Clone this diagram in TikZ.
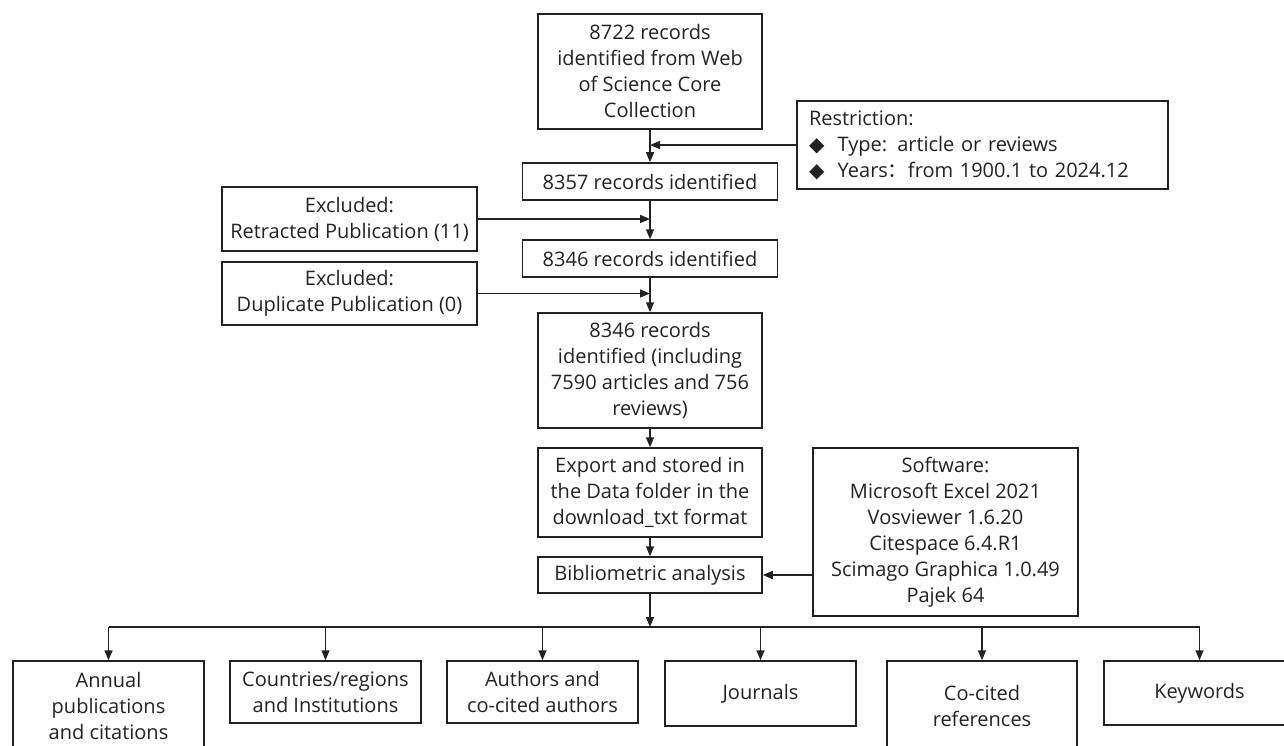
\documentclass[tikz,border=0pt]{standalone}
\usepackage{fontspec}
\setmainfont{Open Sans}
\newfontfamily\symfont{DejaVu Sans}
\newfontfamily\cjk{Noto Sans CJK SC}
\usetikzlibrary{arrows.meta}
\definecolor{ink}{HTML}{222222}
\begin{document}
\begin{tikzpicture}[x=1pt,y=-1pt,
  every node/.style={font=\fontsize{20pt}{26pt}\selectfont, text=ink},
  box/.style={draw=ink, line width=1.5pt, inner sep=0pt, align=center},
  arr/.style={draw=ink, line width=1.5pt, -{Triangle[length=10pt,width=8pt]}},
  ln/.style={draw=ink, line width=1.5pt}]
\useasboundingbox (0,0) rectangle (1284,746);

% main column
\node[box, minimum width=224pt, minimum height=115pt] (top) at (650,71.5)
  {8722 records\\identified from Web\\of Science Core\\Collection};
\node[box, minimum width=255pt, minimum height=37pt] (r1) at (650,181.5)
  {8357 records identified};
\node[box, minimum width=255pt, minimum height=37pt] (r2) at (650,258.5)
  {8346 records identified};
\node[box, minimum width=224pt, minimum height=115pt] (r3) at (650,370.5)
  {8346 records\\identified (including\\7590 articles and 756\\reviews)};
\node[box, minimum width=224pt, minimum height=89pt] (exp) at (650,492.5)
  {Export and stored in\\the Data folder in the\\download\_txt format};
\node[box, minimum width=224pt, minimum height=36pt] (bib) at (650,575)
  {Bibliometric analysis};

% side boxes
\node[box, align=left, text width=347pt, inner xsep=12pt, minimum height=88pt] (restr) at (982.5,145)
  {Restriction:\\{\symfont ◆}\ \ Type: article or reviews\\{\symfont ◆}\ \ Years{\cjk ：}from 1900.1 to 2024.12};
\node[box, minimum width=255pt, minimum height=64pt] (ex1) at (349.5,219)
  {Excluded:\\Retracted Publication (11)};
\node[box, minimum width=255pt, minimum height=63pt] (ex2) at (349.5,293.5)
  {Excluded:\\Duplicate Publication (0)};
\node[box, minimum width=265pt, minimum height=168pt] (soft) at (945.5,532)
  {Software:\\Microsoft Excel 2021\\Vosviewer 1.6.20\\Citespace 6.4.R1\\Scimago Graphica 1.0.49\\Pajek 64};

% bottom boxes
\node[box, minimum width=191pt, minimum height=90pt] (b1) at (108.5,706)
  {Annual\\publications\\and citations};
\node[box, minimum width=191pt, minimum height=62pt] (b2) at (325.5,692)
  {Countries/regions\\and Institutions};
\node[box, minimum width=191pt, minimum height=62pt] (b3) at (542.5,692)
  {Authors and\\co-cited authors};
\node[box, minimum width=191pt, minimum height=65pt] (b4) at (760.5,693.5)
  {Journals};
\node[box, minimum width=190pt, minimum height=90pt] (b5) at (982,706)
  {Co-cited\\references};
\node[box, minimum width=191pt, minimum height=64pt] (b6) at (1199.5,693)
  {Keywords};

% connectors
\draw[arr] (top.south) -- (r1.north);
\draw[arr] (r1.south) -- (r2.north);
\draw[arr] (r2.south) -- (r3.north);
\draw[arr] (r3.south) -- (exp.north);
\draw[arr] (exp.south) -- (bib.north);
\draw[arr] (restr.west) -- (restr.west -| top.south);
\draw[arr] (ex1.east) -- (ex1.east -| r1.south);
\draw[arr] (ex2.east) -- (ex2.east -| r2.south);
\draw[arr] (soft.west |- bib.east) -- (bib.east);

\coordinate (split) at (650,627);
\draw[arr] (bib.south) -- (split);
\draw[ln] (b1.north |- split) -- (b6.north |- split);
\foreach \b in {b1,b2,b3,b4,b5,b6}
  \draw[arr] (\b.north |- split) -- (\b.north);
\end{tikzpicture}
\end{document}
